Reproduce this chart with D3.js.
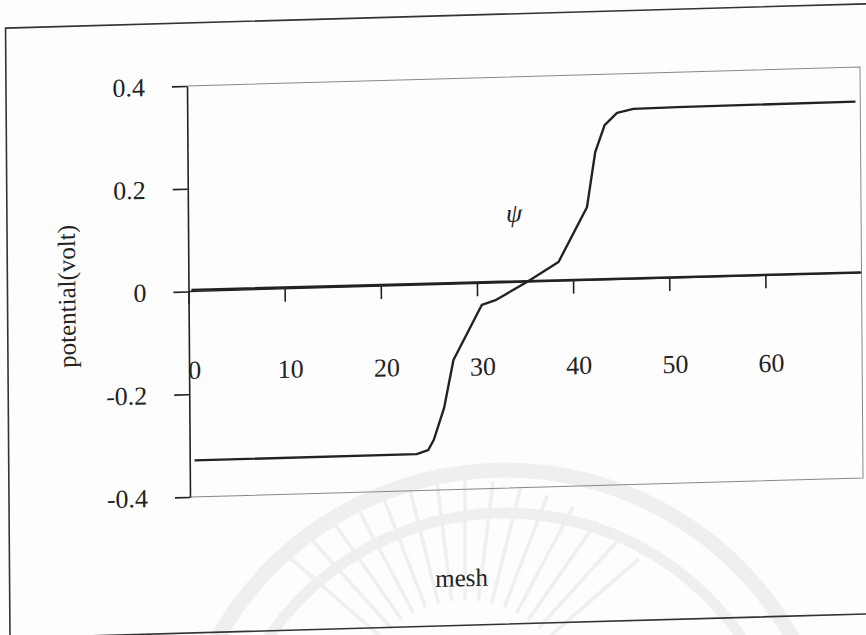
<!DOCTYPE html>
<html>
<head>
<meta charset="utf-8">
<script src="https://cdn.jsdelivr.net/npm/d3@7"></script>
<style>
  body { margin: 0; background: #fdfdfd; }
  svg { display: block; }
  text { font-family: "Liberation Serif", "Times New Roman", serif; fill: #222; }
</style>
</head>
<body>
<div id="chart"></div>
<script>
// valores
const psiMesh = [0.5, 23.6, 24.8, 25.4, 26.5, 27.5, 30.5, 32, 35.2, 38.5, 41.5, 42.4, 43.4, 44.7, 46.4, 51, 69.5];
const psiValues = [-0.329, -0.329, -0.322, -0.302, -0.24, -0.148, -0.042, -0.033, 0.0, 0.037, 0.142, 0.249, 0.301, 0.324, 0.331, 0.332, 0.333];
const flatMesh = [0.3, 20, 27, 50, 69.9];
const flatValues = [0.003, 0.002, 0.002, 0.001, 0.0];
const xTicks = [0, 10, 20, 30, 40, 50, 60];
const yTicks = [-0.4, -0.2, 0, 0.2, 0.4];

const W = 866, H = 635;
const margin = { left: 187, top: 86 };
const plotW = 673, plotH = 411;

// a digitalização está ligeiramente torta
const skewB = -0.0282, skewA = 0.0073;

const svg = d3.select('#chart').append('svg')
  .attr('width', W).attr('height', H);

svg.append('rect').attr('width', W).attr('height', H).attr('fill', '#fdfdfd');

// marca d'água (arcos cinzentos)
const wm = svg.append('g').attr('fill', 'none').attr('stroke', '#efefef');
const wmC = [505, 800];
[[330, 15], [287, 11]].forEach(([r, sw]) => {
  wm.append('path')
    .attr('d', d3.arc()({ innerRadius: r, outerRadius: r, startAngle: -1.25, endAngle: 1.15 }))
    .attr('transform', `translate(${wmC[0]},${wmC[1]})`)
    .attr('stroke-width', sw);
});
d3.range(-7, 8).forEach(i => {
  const ang = (i * 7 - 90) * Math.PI / 180;
  const r0 = 110, r1 = 230;
  wm.append('line')
    .attr('x1', 465 + r0 * Math.cos(ang)).attr('y1', 710 + r0 * Math.sin(ang))
    .attr('x2', 465 + r1 * Math.cos(ang)).attr('y2', 710 + r1 * Math.sin(ang))
    .attr('stroke-width', 3.5);
});

const page = svg.append('g')
  .attr('transform', `matrix(1,${skewB},${skewA},1,${-skewA * margin.top},${-skewB * margin.left})`);

// moldura exterior
page.append('path')
  .attr('d', 'M 900 23 L 6 23 L 6 633 L 900 633')
  .attr('fill', 'none').attr('stroke', '#333').attr('stroke-width', 1.6);

const chart = page.append('g')
  .attr('transform', `translate(${margin.left},${margin.top})`);

const x = d3.scaleLinear().domain([0, 70]).range([0, plotW]);
const y = d3.scaleLinear().domain([-0.4, 0.4]).range([plotH, 0]);

// caixa da área do gráfico
chart.append('path')
  .attr('d', `M 0 0 L ${plotW} 0 L ${plotW} ${plotH} L 0 ${plotH}`)
  .attr('fill', 'none').attr('stroke', '#888').attr('stroke-width', 1);

// eixo y
const yAxis = d3.axisLeft(y)
  .tickValues(yTicks)
  .tickSize(15)
  .tickPadding(27)
  .tickSizeOuter(0)
  .tickFormat(d => d === 0 ? '0' : d.toFixed(1));
const yG = chart.append('g').call(yAxis);
yG.select('.domain').attr('stroke', '#222').attr('stroke-width', 1.6);
yG.selectAll('.tick line').attr('stroke', '#222').attr('stroke-width', 1.6);
yG.selectAll('.tick text')
  .style('font-family', '"Liberation Serif", serif')
  .style('font-size', '26px').attr('fill', '#222');

// eixo x em y = 0
const xAxis = d3.axisBottom(x)
  .tickValues(xTicks)
  .tickSize(13)
  .tickPadding(56)
  .tickSizeOuter(0)
  .tickFormat(d3.format('d'));
const xG = chart.append('g')
  .attr('transform', `translate(0,${y(0)})`)
  .call(xAxis);
xG.select('.domain').attr('stroke', '#222').attr('stroke-width', 1.4)
  .attr('d', `M0,0H${plotW}`);
xG.selectAll('.tick line').attr('stroke', '#222').attr('stroke-width', 1.6);
xG.selectAll('.tick text')
  .attr('dx', 5)
  .attr('y', d => 69 + 0.016 * x(d))
  .style('font-family', '"Liberation Serif", serif')
  .style('font-size', '26px').attr('fill', '#222');

// séries
const line = d3.line().x(d => x(d[0])).y(d => y(d[1]));
chart.append('path')
  .datum(flatMesh.map((m, i) => [m, flatValues[i]]))
  .attr('d', line)
  .attr('fill', 'none').attr('stroke', '#222').attr('stroke-width', 2.4);
chart.append('path')
  .datum(psiMesh.map((m, i) => [m, psiValues[i]]))
  .attr('d', line)
  .attr('fill', 'none').attr('stroke', '#222').attr('stroke-width', 2.4)
  .attr('stroke-linejoin', 'round');

// rótulos
chart.append('text')
  .attr('x', x(33.9)).attr('y', y(0.118))
  .attr('text-anchor', 'middle')
  .style('font-style', 'italic').style('font-size', '26px')
  .text('ψ');

chart.append('text')
  .attr('transform', `translate(${65 - margin.left},${293 - margin.top}) rotate(-90)`)
  .attr('text-anchor', 'middle').attr('dy', '0.35em')
  .style('font-size', '25px')
  .text('potential(volt)');

chart.append('text')
  .attr('x', 458 - margin.left).attr('y', 594 - margin.top)
  .attr('text-anchor', 'middle')
  .style('font-size', '25px')
  .text('mesh');
</script>
</body>
</html>
